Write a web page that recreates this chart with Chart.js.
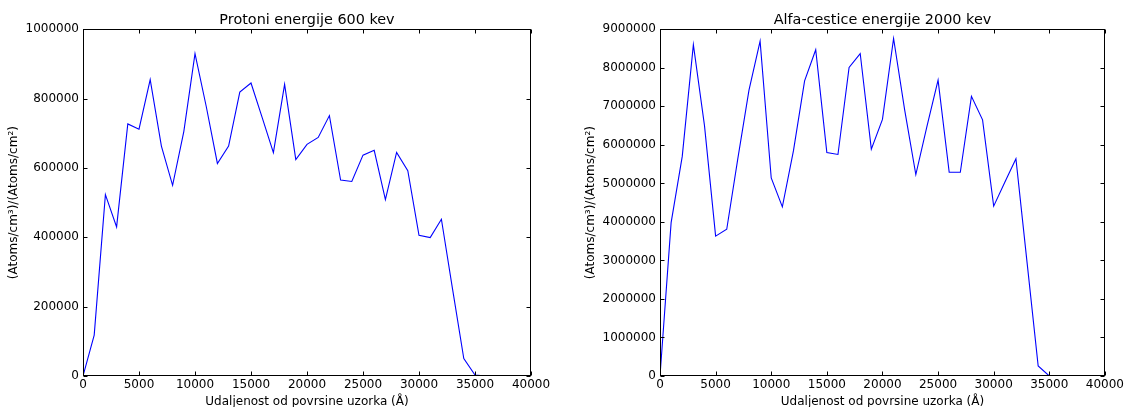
<!DOCTYPE html>
<html>
<head>
<meta charset="utf-8">
<script src="https://cdn.jsdelivr.net/npm/chart.js@4/dist/chart.umd.min.js"></script>
<style>
  html, body { margin: 0; padding: 0; background: #fff; overflow: hidden; width: 1126px; height: 407px; }
  canvas { position: absolute; top: 0; }
  #c1 { left: 0; }
  #c2 { left: 563px; }
</style>
</head>
<body>
<canvas id="c1" width="563" height="409"></canvas>
<canvas id="c2" width="563" height="409"></canvas>
<script>
// ---- data ----
const protonDepth = [0,1000,2000,3000,4000,5000,6000,7000,8000,9000,10000,11000,12000,13000,14000,15000,16000,17000,18000,19000,20000,21000,22000,23000,24000,25000,26000,27000,28000,29000,30000,31000,32000,33000,34000,35000,36000];
const protonValues = [0,118000,523000,430000,727000,712000,855000,663000,550000,705000,930000,778000,613000,663000,819000,845000,745000,644000,841000,624000,668000,688000,751000,565000,561000,637000,651000,509000,645000,592000,406000,399000,452000,250000,50000,3000,0];

const alphaDepth = [0,1000,2000,3000,4000,5000,6000,7000,8000,9000,10000,11000,12000,13000,14000,15000,16000,17000,18000,19000,20000,21000,22000,23000,24000,25000,26000,27000,28000,29000,30000,31000,32000,33000,34000,35000];
const alphaValues = [0,3980000,5700000,8600000,6500000,3630000,3810000,5650000,7420000,8690000,5140000,4390000,5850000,7660000,8470000,5800000,5750000,8010000,8370000,5890000,6660000,8760000,6900000,5230000,6480000,7680000,5290000,5290000,7260000,6650000,4410000,5030000,5640000,2950000,260000,0];

const protonTitle = 'Protoni energije 600 kev';
const alphaTitle = 'Alfa-cestice energije 2000 kev';
const xTitle = 'Udaljenost od povrsine uzorka (Å)';
const yTitle = '(Atoms/cm³)/(Atoms/cm²)';
const xTicks = { min: 0, max: 40000, step: 5000 };
const protonYTicks = { min: 0, max: 1000000, step: 200000 };
const alphaYTicks = { min: 0, max: 9000000, step: 1000000 };

Chart.defaults.font.family = "'DejaVu Sans', sans-serif";
Chart.defaults.font.size = 12;
Chart.defaults.color = '#000';

const framePlugin = {
  id: 'frame',
  afterDatasetsDraw(chart) {
    const { ctx, chartArea: a, scales: { x, y } } = chart;
    ctx.save();
    ctx.strokeStyle = '#000';
    ctx.lineWidth = 1;
    const L = Math.round(a.left) + 0.5, R = Math.round(a.right) - 0.5;
    const T = Math.round(a.top) + 0.5, B = Math.round(a.bottom) - 0.5;
    ctx.strokeRect(L, T, R - L, B - T);
    const len = 4;
    ctx.beginPath();
    x.ticks.forEach(t => {
      const p = Math.round(x.getPixelForValue(t.value)) + 0.5;
      ctx.moveTo(p, B); ctx.lineTo(p, B - len);
      ctx.moveTo(p, T); ctx.lineTo(p, T + len);
    });
    y.ticks.forEach(t => {
      const p = Math.round(y.getPixelForValue(t.value)) + 0.5;
      ctx.moveTo(L, p); ctx.lineTo(L + len, p);
      ctx.moveTo(R, p); ctx.lineTo(R - len, p);
    });
    ctx.stroke();
    ctx.restore();
  }
};

function makeChart(id, depth, values, title, yT, yAxisWidth, padRight, yTitlePad) {
  const pts = depth.map((d, i) => ({ x: d, y: values[i] }));
  return new Chart(document.getElementById(id), {
    type: 'line',
    data: {
      datasets: [{
        data: pts,
        borderColor: '#0000ff',
        borderWidth: 1.1,
        pointRadius: 0,
        fill: false,
        tension: 0
      }]
    },
    options: {
      responsive: false,
      animation: false,
      events: [],
      layout: { autoPadding: false, padding: { left: 0, right: padRight, top: 0, bottom: 0 } },
      plugins: {
        legend: { display: false },
        tooltip: { enabled: false },
        title: {
          display: true,
          text: title,
          fullSize: false,
          color: '#000',
          font: { size: 14.4, weight: 'normal' },
          padding: { top: 12, bottom: 0 }
        }
      },
      scales: {
        x: {
          type: 'linear',
          min: xTicks.min, max: xTicks.max,
          grid: { display: false, drawTicks: false },
          border: { display: false },
          ticks: { stepSize: xTicks.step, padding: 2, maxRotation: 0, autoSkip: false, callback: v => String(v) },
          title: { display: true, text: xTitle, font: { size: 12 }, padding: { top: 0, bottom: 0 } },
          afterFit(s) { s.height = 33; }
        },
        y: {
          type: 'linear',
          min: yT.min, max: yT.max,
          grid: { display: false, drawTicks: false },
          border: { display: false },
          ticks: { stepSize: yT.step, padding: 4, autoSkip: false, callback: v => String(v) },
          title: { display: true, text: yTitle, font: { size: 12 }, padding: { top: yTitlePad, bottom: 0 } },
          afterFit(s) { s.width = yAxisWidth; }
        }
      }
    },
    plugins: [framePlugin]
  });
}

makeChart('c1', protonDepth, protonValues, protonTitle, protonYTicks, 83, 32, 6.8);
makeChart('c2', alphaDepth, alphaValues, alphaTitle, alphaYTicks, 97, 20, 20.8);
</script>
</body>
</html>
